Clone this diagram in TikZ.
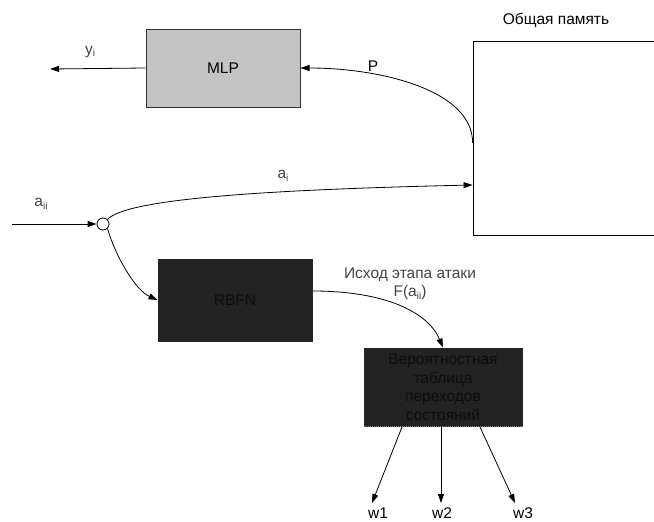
\documentclass[tikz,border=0pt]{standalone}
\usepackage{fontspec}
\setmainfont{Liberation Sans}
\usetikzlibrary{arrows.meta}
\newcommand{\subi}[1]{\raisebox{-0.3ex}{\fontsize{10}{10}\selectfont #1}}
\definecolor{lbl}{HTML}{444444}
\definecolor{darkbox}{HTML}{222222}
\definecolor{darktxt}{HTML}{0E0E0E}
\definecolor{mlpgray}{HTML}{C4C4C4}
\begin{document}
\begin{tikzpicture}[x=1pt,y=-1pt,
  every node/.style={font=\fontsize{15.5}{18}\selectfont},
  arr/.style={draw=black,line width=0.8pt,-{Triangle[length=9pt,width=6pt]}},
  boxg/.style={draw=black!80,line width=1pt,fill=mlpgray,minimum width=154pt,minimum height=78pt,inner sep=0pt},
  boxd/.style={draw=black!85,line width=1pt,fill=darkbox,text=darktxt,inner sep=0pt},
  lab/.style={text=lbl,inner sep=1pt}]
\useasboundingbox (0,0) rectangle (654,522);
\clip (0,0) rectangle (654,522);

% boxes
\node[boxg] (mlp) at (223,68) {MLP};
\node[draw=black,line width=0.8pt,minimum width=200pt,minimum height=194pt,inner sep=0pt] (mem) at (573,138) {};
\node[text=black] (memt) at (556,20) {Общая память};
\node[boxd,minimum width=154pt,minimum height=82pt] (rbfn) at (235,300) {RBFN};
\node[boxd,minimum width=158pt,minimum height=78pt,align=center,font=\fontsize{15.5}{18.5}\selectfont] (tab) at (443,387) {Вероятностная\\таблица\\переходов\\состояний};
\draw[gray,line width=1pt,densely dotted] (tab.south west) -- (tab.south east);

% junction circle
\node[draw=black,fill=white,circle,line width=0.8pt,minimum size=12pt,inner sep=0pt] (jn) at (103,224) {};
\coordinate (in) at (12,224);
\coordinate (yout) at (50,69);

% connectors
\draw[arr] (in) -- (jn.west);
\draw[arr] (mlp.west) -- (yout);
\draw[arr] ([yshift=-5pt]mem.west) .. controls (473,90) and (380,68) .. (mlp.east);
\draw[arr] (jn.north east) .. controls (125,200) and (250,190) .. ([yshift=-47pt]mem.west);
\draw[arr] (jn.south east) .. controls (115,255) and (135,290) .. (rbfn.west);
\draw[arr] ([yshift=9pt]rbfn.east) .. controls (385,291) and (428,312) .. (tab.north);

\coordinate (w1s) at (402,427);
\coordinate (w2s) at (441,427);
\coordinate (w3s) at (480,427);
\node[text=black,anchor=base,inner sep=0pt] (w1) at (378,518) {w1};
\node[text=black,anchor=base,inner sep=0pt] (w2) at (442,518) {w2};
\node[text=black,anchor=base,inner sep=0pt] (w3) at (523,518) {w3};
\draw[arr] (w1s) -- (372,503);
\draw[arr] (w2s) -- (441,503);
\draw[arr] (w3s) -- (515,503);

% labels
\node[lab] (ly) at (90,52) {y\subi{i}};
\node[text=black] (lp) at (373,66) {P};
\node[lab] (lai) at (283,176) {a\subi{i}};
\node[lab] (laii) at (41,204) {a\subi{ii}};
\node[lab,align=center] (lisx) at (410,284) {Исход этапа атаки\\F(a\subi{ii})};
\end{tikzpicture}
\end{document}
